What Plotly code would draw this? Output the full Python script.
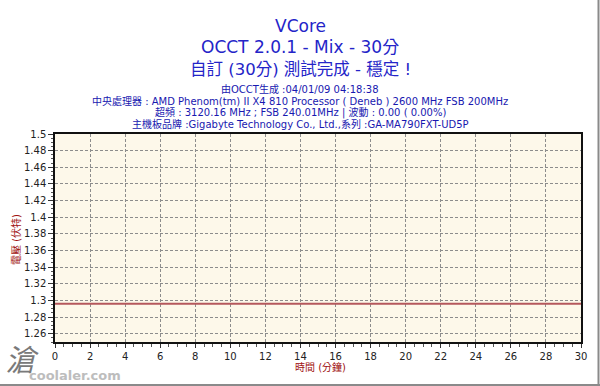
import plotly.graph_objects as go

# Data
time_min = [0, 5, 10, 15, 20, 25, 30]
vcore = [1.296, 1.296, 1.296, 1.296, 1.296, 1.296, 1.296]

title_lines = ["VCore", "OCCT 2.0.1 - Mix - 30分", "自訂 (30分) 測試完成 - 穩定 !"]
info_lines = [
    "由OCCT生成 :04/01/09 04:18:38",
    "中央處理器 : AMD Phenom(tm) II X4 810 Processor ( Deneb ) 2600 MHz FSB 200MHz",
    "超頻 : 3120.16 MHz ; FSB 240.01MHz | 波動 : 0.00 ( 0.00%)",
    "主機板品牌 :Gigabyte Technology Co., Ltd.,系列 :GA-MA790FXT-UD5P",
]
y_title = "電壓 (伏特)"
x_title = "時間 (分鐘)"

W, H = 600, 386
L, R, T, B = 55, 19, 134, 44
PW, PH = W - L - R, H - T - B

def px(x):
    return (x - L) / PW

def py(y):
    return (H - B - y) / PH

FONT = "DejaVu Sans, Noto Sans CJK TC, sans-serif"

fig = go.Figure()
fig.add_trace(go.Scatter(x=time_min, y=vcore, mode="lines",
                         line=dict(color="#B5585C", width=2), showlegend=False,
                         hoverinfo="skip"))

annos = []
title_specs = [(26, 17), (47, 17), (69, 16.5)]
for txt, (yy, sz) in zip(title_lines, title_specs):
    annos.append(dict(text=txt, x=px(300), y=py(yy), xref="paper", yref="paper",
                      showarrow=False, xanchor="center", yanchor="middle",
                      font=dict(family=FONT, size=sz, color="#2424C8")))
for i, txt in enumerate(info_lines):
    annos.append(dict(text=txt, x=px(300), y=py(89 + i * 11.6), xref="paper", yref="paper",
                      showarrow=False, xanchor="center", yanchor="middle",
                      font=dict(family=FONT, size=10, color="#1818B0")))
annos.append(dict(text=y_title, x=px(16), y=py(240), xref="paper", yref="paper",
                  showarrow=False, textangle=-90, xanchor="center", yanchor="middle",
                  font=dict(family=FONT, size=10, color="#A01010")))
annos.append(dict(text=x_title, x=px(320), y=py(367), xref="paper", yref="paper",
                  showarrow=False, xanchor="center", yanchor="middle",
                  font=dict(family=FONT, size=10, color="#A01010")))
annos.append(dict(text="<b>coolaler.com</b>", x=px(27), y=py(375), xref="paper", yref="paper",
                  showarrow=False, xanchor="left", yanchor="middle",
                  font=dict(family=FONT, size=13, color="#BDBDBD")))
annos.append(dict(text="<i>滄</i>", x=px(3), y=py(360), xref="paper", yref="paper",
                  showarrow=False, xanchor="left", yanchor="middle",
                  font=dict(family=FONT, size=30, color="#7A7A7A")))

shapes = [
    dict(type="line", xref="paper", yref="paper", x0=px(598.5), x1=px(598.5),
         y0=py(0), y1=py(386), line=dict(color="#8A8A8A", width=2)),
    dict(type="line", xref="paper", yref="paper", x0=px(0), x1=px(600),
         y0=py(385), y1=py(385), line=dict(color="#8A8A8A", width=2)),
]

fig.update_layout(
    width=W, height=H, margin=dict(l=L, r=R, t=T, b=B),
    paper_bgcolor="white", plot_bgcolor="#FDF8EA",
    annotations=annos, shapes=shapes,
    font=dict(family=FONT, size=10, color="#222222"),
)
fig.update_xaxes(range=[0, 30], dtick=2, tick0=0, showgrid=True, gridcolor="#8C8C8C",
                 griddash="3px,2px", gridwidth=1, showline=True, linecolor="#111111",
                 linewidth=1.5, mirror=True, ticks="outside", ticklen=4, tickcolor="#333",
                 zeroline=False, tickfont=dict(size=10, color="#222"),
                 minor=dict(dtick=0.5, ticks="outside", ticklen=3, tickcolor="#555", showgrid=False))
fig.update_yaxes(range=[1.25, 1.5], dtick=0.02, tick0=1.26, showgrid=True, gridcolor="#8C8C8C",
                 griddash="3px,2px", gridwidth=1, showline=True, linecolor="#111111",
                 linewidth=1.5, mirror=True, ticks="outside", ticklen=5, tickcolor="#333",
                 zeroline=False, tickfont=dict(size=10, color="#222"),
                 minor=dict(dtick=0.005, ticks="outside", ticklen=2, tickcolor="#555", showgrid=False))

fig.write_html("out.html")
